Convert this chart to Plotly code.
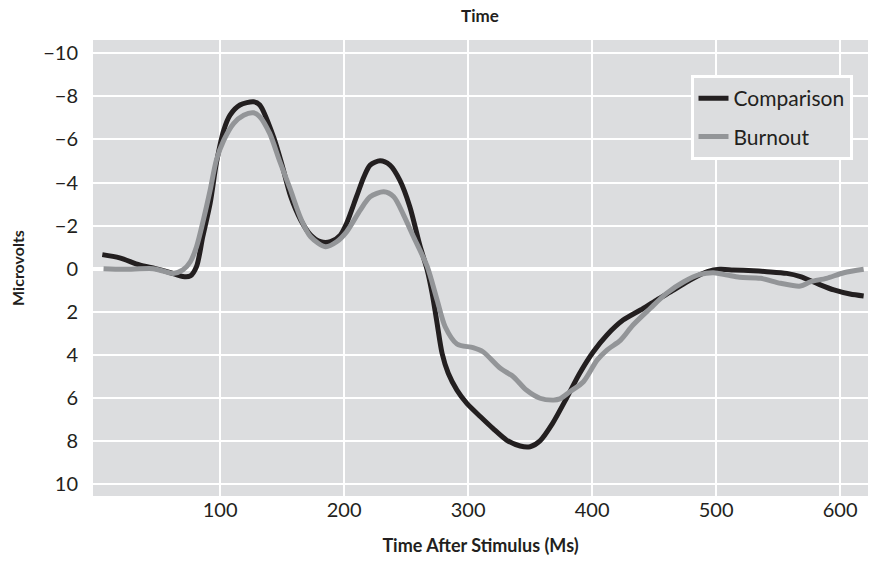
import plotly.graph_objects as go

# Comparison group (black)
comp_x = [5, 19, 35, 48, 60, 70, 76, 81, 86, 92, 97, 103, 108, 116, 127, 132, 143, 150, 157,
          165, 173, 181, 189, 197, 202, 210, 216, 221, 229, 237, 245, 253, 261, 267, 271, 275,
          279, 284, 291, 299, 310, 320, 331, 342, 350, 358, 368, 380, 390, 401, 412, 425, 439,
          452, 466, 479, 493, 503, 514, 530, 541, 557, 568, 581, 595, 608, 619]
comp_y = [-0.65, -0.5, -0.17, 0, 0.19, 0.37, 0.34, -0.1, -1.48, -3.05, -4.9, -6.44, -7.13, -7.6,
          -7.75, -7.6, -6.13, -4.8, -3.34, -2.26, -1.56, -1.25, -1.25, -1.56, -2.1, -3.34, -4.27,
          -4.81, -5.01, -4.81, -4.1, -2.88, -1.1, 0.06, 1.15, 2.54, 3.93, 4.86, 5.64, 6.26, 6.88,
          7.42, 7.96, 8.24, 8.27, 8.0, 7.2, 5.95, 4.86, 3.86, 3.08, 2.39, 1.92, 1.46, 0.99, 0.53,
          0.14, 0.03, 0.06, 0.1, 0.14, 0.22, 0.37, 0.68, 0.99, 1.18, 1.27]

# Burnout group (gray)
burn_x = [6, 22, 46, 54, 62, 70, 76, 81, 86.5, 92, 97, 103, 111, 119, 127, 132, 140, 148, 156.5,
          165, 173, 185, 194, 202, 213, 221, 232, 240, 248, 256, 267, 275, 281.5, 291, 304, 312,
          326, 336.5, 347, 358, 369, 374, 382, 393, 404, 412, 423, 433, 447, 460, 474, 487, 498,
          509, 519, 536, 552, 568, 576, 589, 603, 619]
burn_y = [0, 0.03, 0, 0.11, 0.22, 0.06, -0.32, -1.02, -2.26, -3.65, -5.04, -5.97, -6.75, -7.13,
          -7.24, -7.06, -6.28, -5.0, -3.7, -2.34, -1.48, -1.02, -1.25, -1.71, -2.72, -3.34, -3.57,
          -3.34, -2.49, -1.48, -0.1, 1.46, 2.7, 3.5, 3.67, 3.86, 4.63, 5.02, 5.64, 6.02, 6.1, 6.05,
          5.72, 5.25, 4.25, 3.78, 3.32, 2.62, 1.84, 1.15, 0.61, 0.27, 0.19, 0.3, 0.4, 0.45, 0.68,
          0.81, 0.61, 0.45, 0.19, 0.03]

x_ticks = [100, 200, 300, 400, 500, 600]
y_ticks = [-10, -8, -6, -4, -2, 0, 2, 4, 6, 8, 10]

FONT = "Lato"
BG = "#dcdddf"

fig = go.Figure()
fig.add_trace(go.Scatter(x=comp_x, y=comp_y, mode="lines", name="Comparison", legendgroup="a",
                         line=dict(color="#231f20", width=5, shape="spline", smoothing=0.8)))
fig.add_trace(go.Scatter(x=burn_x, y=burn_y, mode="lines", name="Burnout", legendgroup="b",
                         line=dict(color="#939598", width=5, shape="spline", smoothing=0.8)))

fig.update_layout(
    width=870, height=565,
    margin=dict(l=93, r=2, t=40, b=69),
    paper_bgcolor="white", plot_bgcolor=BG,
    font=dict(family=FONT, color="#231f20", size=20),
    title=dict(text="<b>Time</b>", x=0.5517, xanchor="center", y=0.972, yanchor="middle",
               font=dict(size=17, family=FONT)),
    showlegend=True,
    legend=dict(x=0.98, xanchor="right", y=0.923, yanchor="top",
                bgcolor=BG, bordercolor="white", borderwidth=3,
                font=dict(size=21, family=FONT), itemwidth=30, tracegroupgap=8),
    xaxis=dict(range=[-2.5, 622.5], tickvals=x_ticks, showgrid=True, gridcolor="white",
               gridwidth=2, zeroline=False, showline=False, ticks="",
               title=dict(text="<b>Time After Stimulus (Ms)</b>", font=dict(size=18), standoff=19),
               tickfont=dict(size=20)),
    yaxis=dict(range=[10.56, -10.62], tickvals=y_ticks, showgrid=True, gridcolor="white",
               gridwidth=2, zeroline=True, zerolinecolor="white", zerolinewidth=4,
               showline=False, ticks="outside", ticklen=10, tickcolor="rgba(0,0,0,0)",
               title=dict(text="<b>Microvolts</b>", font=dict(size=16), standoff=14),
               tickfont=dict(size=20)),
)

fig.write_html("out.html", config={"displayModeBar": False},
               post_script="document.body.style.margin='0';document.body.style.padding='0';")
